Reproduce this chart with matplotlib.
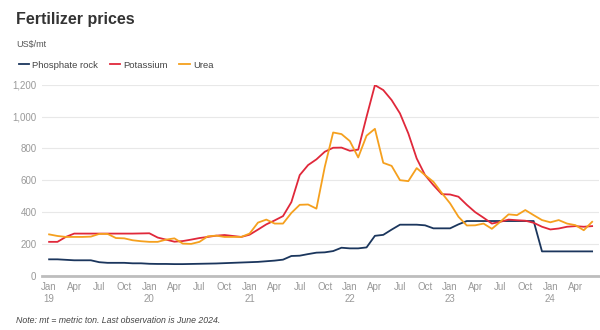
import matplotlib.pyplot as plt
import numpy as np

plt.rcParams['font.family'] = ['Liberation Sans', 'DejaVu Sans']

# monthly, Jan 2019 .. Jun 2024
phosphate = [102, 102, 99, 96, 96, 96, 84, 80, 80, 80, 77, 77,
             74, 73, 73, 72, 72, 73, 74, 75, 76, 78, 80, 82,
             84, 86, 90, 94, 100, 123, 125, 135, 144, 146, 154, 175,
             171, 171, 177, 250, 256, 289, 320, 320, 320, 316, 297, 297,
             297, 322, 343, 343, 343, 343, 343, 343, 343, 343, 343, 152,
             152, 152, 152, 152, 152, 152]
potassium = [212, 212, 243, 264, 264, 264, 264, 264, 264, 264, 264, 265,
             266, 239, 226, 213, 217, 226, 236, 243, 251, 255, 249, 243,
             257, 289, 322, 347, 374, 462, 632, 695, 731, 779, 804, 805,
             785, 792, 999, 1198, 1167, 1104, 1020, 894, 737, 632, 569, 512,
             510, 496, 445, 399, 364, 327, 338, 352, 348, 345, 332, 307,
             290, 296, 307, 311, 307, 311]
urea = [259, 249, 243, 243, 243, 245, 262, 262, 236, 234, 222, 216,
        212, 212, 226, 234, 201, 199, 212, 247, 251, 243, 243, 243,
        264, 333, 352, 327, 327, 394, 445, 447, 421, 684, 900, 890,
        846, 743, 880, 923, 709, 690, 600, 594, 676, 632, 590, 520,
        454, 370, 315, 316, 327, 294, 338, 385, 380, 412, 380, 349,
        335, 349, 327, 317, 285, 338]

months = np.arange(len(phosphate))
tick_pos = np.arange(0, 66, 3)
tick_labels = []
for i in tick_pos:
    m = ['Jan', 'Apr', 'Jul', 'Oct'][(i % 12) // 3]
    if m == 'Jan':
        m += '\n%02d' % (19 + i // 12)
    tick_labels.append(m)

fig = plt.figure(figsize=(6, 3.3), dpi=100)
ax = fig.add_axes([0.07, 0.165, 0.928, 0.578])

ax.plot(months, phosphate, color='#1b365d', lw=1.3, label='Phosphate rock')
ax.plot(months, potassium, color='#e0283a', lw=1.3, label='Potassium')
ax.plot(months, urea, color='#f5a01e', lw=1.3, label='Urea')

ax.set_xlim(-0.85, 65.8)
ax.set_ylim(0, 1200)
ax.set_yticks(range(0, 1201, 200))
ax.set_yticklabels(['0', '200', '400', '600', '800', '1,000', '1,200'])
ax.set_xticks(tick_pos)
ax.set_xticklabels(tick_labels)
ax.tick_params(axis='both', length=0, labelsize=7, colors='#999999')
ax.tick_params(axis='x', pad=5)
ax.tick_params(axis='y', pad=4)
ax.grid(axis='y', color='#e8e8e8', lw=0.8)
ax.set_axisbelow(True)
for s in ['top', 'right', 'left']:
    ax.spines[s].set_visible(False)
ax.spines['bottom'].set_color('#bdbdbd')
ax.spines['bottom'].set_linewidth(2)

fig.text(0.027, 0.94, 'Fertilizer prices', fontsize=11.5, fontweight='bold',
         color='#333333', va='center')
fig.text(0.027, 0.866, 'US$/mt', fontsize=6.5, color='#555555', va='center')
fig.legend(loc='center left', bbox_to_anchor=(0.017, 0.803), ncol=3,
           frameon=False, fontsize=6.8, handlelength=1.1, handletextpad=0.35,
           columnspacing=1.2, labelcolor='#444444')
fig.text(0.027, 0.03, 'Note: mt = metric ton. Last observation is June 2024.',
         fontsize=6.3, style='italic', color='#444444', va='center')

fig.savefig('out.png', dpi=100)
